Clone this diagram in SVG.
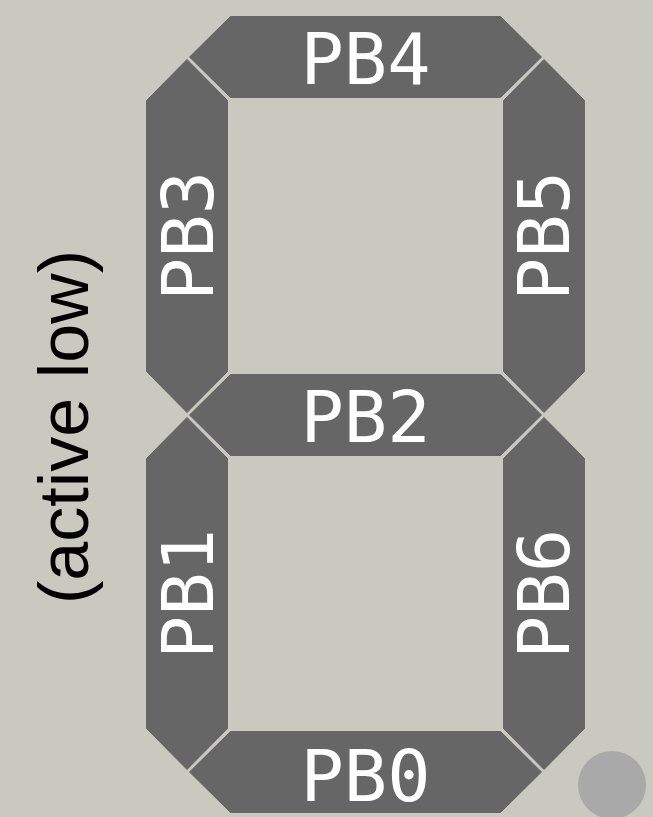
<svg xmlns="http://www.w3.org/2000/svg" width="653" height="817" viewBox="0 0 653 817">
<style>
.seg{fill:#666666;stroke:#666666;stroke-width:1;stroke-linejoin:round}
.lbl{font-family:"DejaVu Sans Mono","Liberation Mono",monospace;font-size:72px;fill:#ffffff;text-anchor:middle}
.note{font-family:"Liberation Sans",Arial,sans-serif;font-size:70px;fill:#000000;text-anchor:middle}
</style>
<rect x="0" y="0" width="653" height="817" fill="#c9c9bf"/>
<g id="PB4">
<polygon class="seg" points="189.5,57 230.5,16.5 500.5,16.5 541.5,57 500.5,97.5 230.5,97.5"/>
<text class="lbl" x="365.5" y="84">PB4</text>
</g>
<g id="PB2">
<polygon class="seg" points="189.5,415 230.5,374.5 500.5,374.5 541.5,415 500.5,455.5 230.5,455.5"/>
<text class="lbl" x="365.5" y="442">PB2</text>
</g>
<g id="PB0">
<polygon class="seg" points="189.5,772 230.5,731.5 500.5,731.5 541.5,772 500.5,812.5 230.5,812.5"/>
<text class="lbl" x="365.5" y="801">PB0</text>
</g>
<g id="PB3">
<polygon class="seg" points="187,59.5 227.5,100.5 227.5,371.5 187,412.5 146.5,371.5 146.5,100.5"/>
<text class="lbl" transform="translate(213,236) rotate(-90)" x="0" y="0">PB3</text>
</g>
<g id="PB5">
<polygon class="seg" points="544,59.5 584.5,100.5 584.5,371.5 544,412.5 503.5,371.5 503.5,100.5"/>
<text class="lbl" transform="translate(569,236) rotate(-90)" x="0" y="0">PB5</text>
</g>
<g id="PB1">
<polygon class="seg" points="187,417.5 227.5,458.5 227.5,728.5 187,769.5 146.5,728.5 146.5,458.5"/>
<text class="lbl" transform="translate(213,594) rotate(-90)" x="0" y="0">PB1</text>
</g>
<g id="PB6">
<polygon class="seg" points="544,417.5 584.5,458.5 584.5,728.5 544,769.5 503.5,728.5 503.5,458.5"/>
<text class="lbl" transform="translate(569,594) rotate(-90)" x="0" y="0">PB6</text>
</g>
<g id="DP">
<circle cx="612" cy="785" r="34" fill="#a9a9a9"/>
</g>
<g id="note">
<text class="note" transform="translate(88,427) rotate(-90)" x="0" y="0">(active low)</text>
</g>
</svg>
